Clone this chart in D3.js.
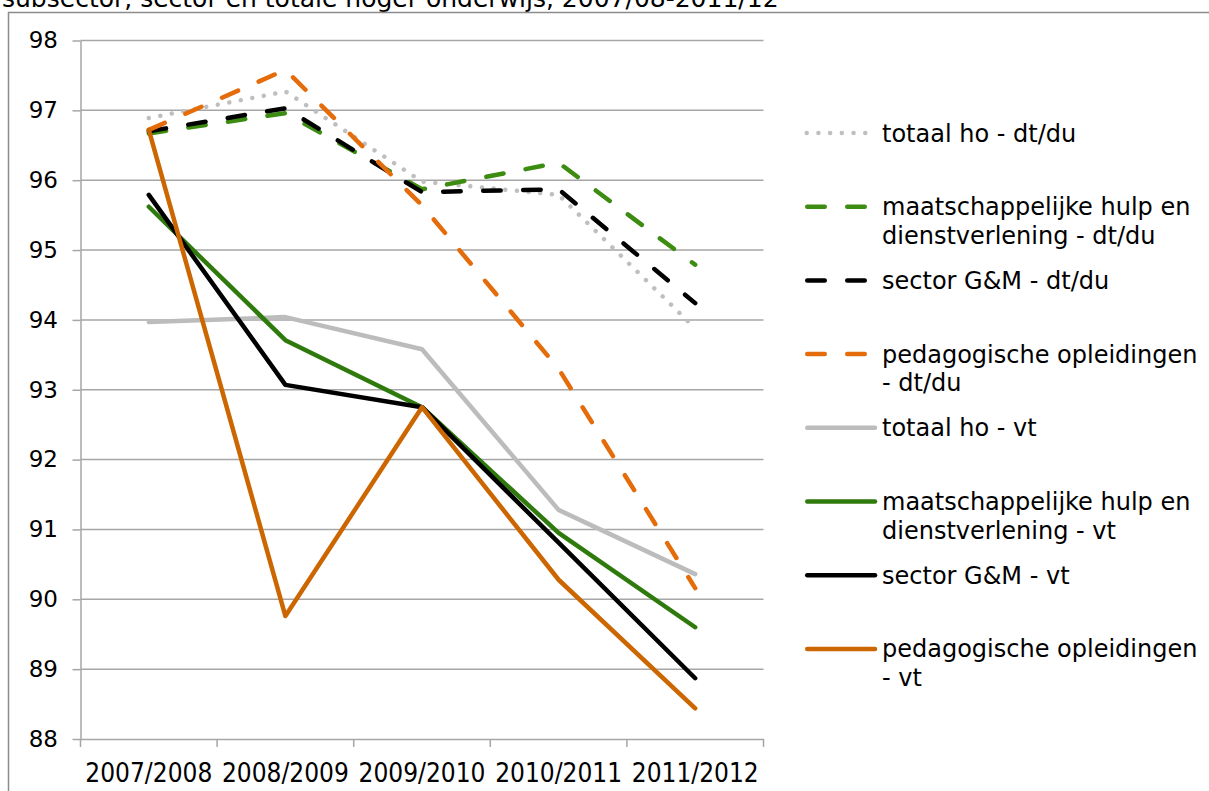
<!DOCTYPE html>
<html>
<head>
<meta charset="utf-8">
<script src="https://cdn.jsdelivr.net/npm/d3@7"></script>
<style>
  html, body { margin: 0; padding: 0; background: #ffffff; }
  svg { display: block; }
</style>
</head>
<body>
<script>
// ---------- data ----------
const categories = ["2007/2008", "2008/2009", "2009/2010", "2010/2011", "2011/2012"];
const yTicks = [88, 89, 90, 91, 92, 93, 94, 95, 96, 97, 98];

const totaalHoDt   = [96.89, 97.27, 95.98, 95.79, 93.88];
const maatschDt    = [96.67, 96.96, 95.87, 96.25, 94.79];
const sectorDt     = [96.70, 97.03, 95.83, 95.87, 94.24];
const pedagogDt    = [96.72, 97.58, 95.64, 93.30, 90.16];
const totaalHoVt   = [93.97, 94.04, 93.58, 91.28, 90.36];
const maatschVt    = [95.62, 93.71, 92.75, 90.95, 89.60];
const sectorVt     = [95.79, 93.07, 92.75, 90.81, 88.87];
const pedagogVt    = [96.72, 89.76, 92.75, 90.28, 88.44];

const seriesNames = [
  ["totaal ho - dt/du"],
  ["maatschappelijke hulp en", "dienstverlening - dt/du"],
  ["sector G&M - dt/du"],
  ["pedagogische opleidingen", "- dt/du"],
  ["totaal ho - vt"],
  ["maatschappelijke hulp en", "dienstverlening - vt"],
  ["sector G&M - vt"],
  ["pedagogische opleidingen", "- vt"]
];
const titleText = "subsector, sector en totale hoger onderwijs, 2007/08-2011/12";

// ---------- styles ----------
const series = [
  { values: totaalHoDt, color: "#bfbfbf", type: "dot" },
  { values: maatschDt,  color: "#3d8c12", type: "dash" },
  { values: sectorDt,   color: "#000000", type: "dash" },
  { values: pedagogDt,  color: "#e46c0a", type: "dash" },
  { values: totaalHoVt, color: "#bcbcbc", type: "solid" },
  { values: maatschVt,  color: "#2f7a0c", type: "solid" },
  { values: sectorVt,   color: "#000000", type: "solid" },
  { values: pedagogVt,  color: "#cc6600", type: "solid" }
].map((s, i) => ({ ...s, name: seriesNames[i] }));

const W = 1209, H = 791;
const svg = d3.select("body").append("svg").attr("width", W).attr("height", H);

// outer chart frame (partially out of view) and cut title
svg.append("text")
  .attr("x", 2).attr("y", 7)
  .attr("font-family", "DejaVu Sans, Verdana, sans-serif")
  .attr("font-size", 25)
  .attr("fill", "#000")
  .text(titleText);
svg.append("rect")
  .attr("x", 8.5).attr("y", 12.5)
  .attr("width", 1400).attr("height", 900)
  .attr("fill", "#ffffff")
  .attr("stroke", "#8c8c8c").attr("stroke-width", 1.5);

// scales
const x = d3.scaleBand().domain(categories).range([80.5, 763.5]);
const cx = c => x(c) + x.bandwidth() / 2;
const y = d3.scaleLinear().domain([88, 98]).range([739, 40.5]);

const gridColor = "#a6a6a6";

// gridlines
svg.append("g").selectAll("line")
  .data(yTicks.filter(t => t !== 88))
  .join("line")
  .attr("x1", 80.5).attr("x2", 763.5)
  .attr("y1", d => y(d)).attr("y2", d => y(d))
  .attr("stroke", gridColor).attr("stroke-width", 1.5);

// y axis
const yAxis = svg.append("g")
  .attr("transform", "translate(80.5,0)")
  .call(d3.axisLeft(y).tickValues(yTicks).tickSize(8).tickSizeOuter(0).tickPadding(14.5).tickFormat(d3.format("d")));
yAxis.select(".domain").attr("stroke", gridColor).attr("stroke-width", 1.5);
yAxis.selectAll(".tick line").attr("stroke", gridColor).attr("stroke-width", 1.5);
yAxis.selectAll(".tick text")
  .attr("font-family", "DejaVu Sans, Verdana, sans-serif")
  .attr("font-size", 23)
  .attr("fill", "#000");

// x axis
const xAxis = svg.append("g")
  .attr("transform", "translate(0,739)")
  .call(d3.axisBottom(x).tickSize(0).tickSizeOuter(0).tickPadding(25));
xAxis.select(".domain").attr("stroke", gridColor).attr("stroke-width", 1.5);
xAxis.selectAll(".tick text")
  .attr("font-family", "DejaVu Sans Condensed, DejaVu Sans, sans-serif")
  .attr("font-stretch", "condensed")
  .attr("font-size", 26)
  .attr("fill", "#000");
const boundaries = categories.map(c => x(c)).concat([x(categories[categories.length - 1]) + x.bandwidth()]);
xAxis.append("g").selectAll("line")
  .data(boundaries)
  .join("line")
  .attr("x1", d => d).attr("x2", d => d)
  .attr("y1", 0).attr("y2", 8)
  .attr("stroke", gridColor).attr("stroke-width", 1.5);

// lines
const line = d3.line()
  .x((d, i) => cx(categories[i]))
  .y(d => y(d));

function styleStroke(sel, s) {
  sel.attr("fill", "none")
    .attr("stroke", s.color)
    .attr("stroke-width", 4.5)
    .attr("stroke-linejoin", "round")
    .attr("stroke-linecap", "round");
  if (s.type === "dash") sel.attr("stroke-dasharray", "17.5,22.5");
  if (s.type === "dot") sel.attr("stroke-dasharray", "0.01,11.7");
  return sel;
}

const gLines = svg.append("g");
series.forEach(s => {
  styleStroke(gLines.append("path").attr("d", line(s.values)), s);
});

// legend
const legend = svg.append("g");
const legY0 = 133, legStep = 73.7;
series.forEach((s, i) => {
  const ly = legY0 + i * legStep;
  const g = legend.append("g");
  const x2 = s.type === "solid" ? 875 : 865.75;
  const l = g.append("line")
    .attr("x1", 807.25).attr("x2", x2)
    .attr("y1", ly).attr("y2", ly);
  styleStroke(l, s);
  if (s.type === "dot") l.attr("x1", 806.7);
  s.name.forEach((t, j) => {
    g.append("text")
      .attr("x", 882)
      .attr("y", ly + 8.5 + j * 28.5)
      .attr("font-family", "DejaVu Sans, Verdana, sans-serif")
      .attr("font-size", 24)
      .attr("fill", "#000")
      .text(t);
  });
});
</script>
</body>
</html>
